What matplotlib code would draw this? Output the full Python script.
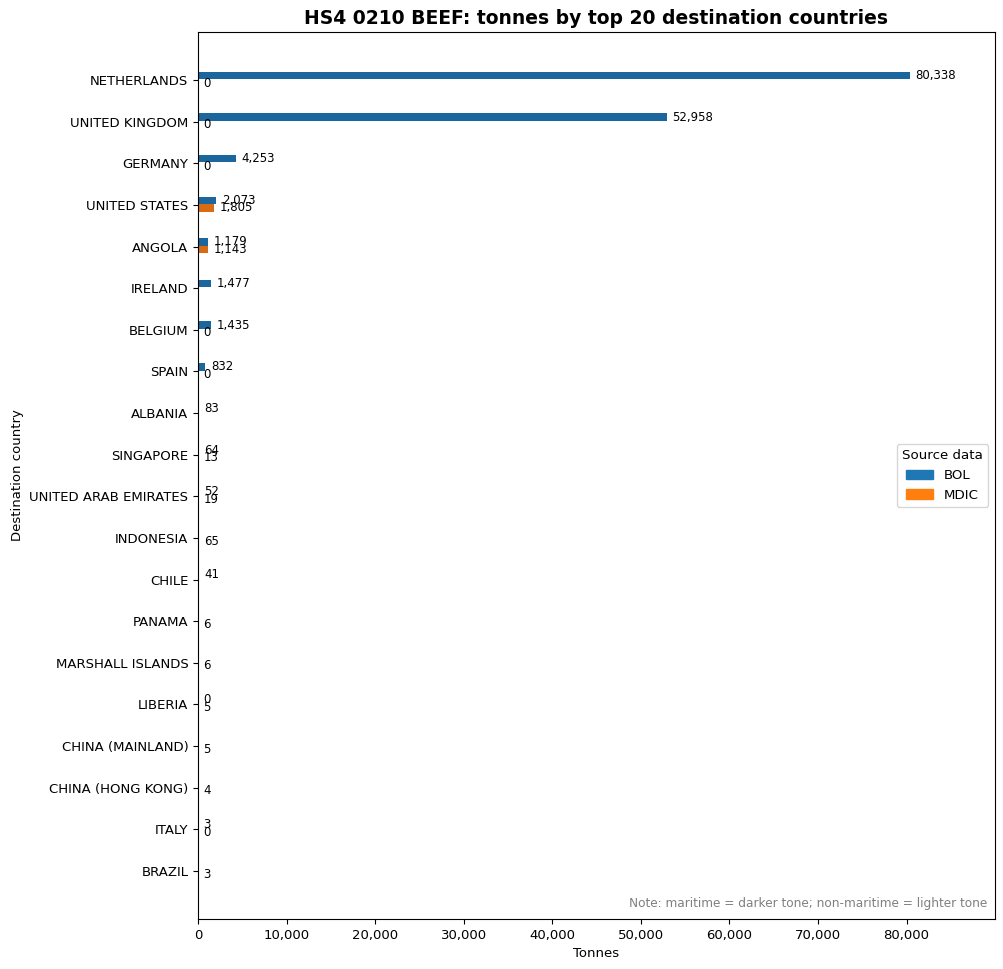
import numpy as np
import matplotlib
matplotlib.use("Agg")
import matplotlib.pyplot as plt
from matplotlib.patches import Patch

# top 20 destination countries, sorted by total tonnes
countries = ["NETHERLANDS", "UNITED KINGDOM", "GERMANY", "UNITED STATES", "ANGOLA",
             "IRELAND", "BELGIUM", "SPAIN", "ALBANIA", "SINGAPORE",
             "UNITED ARAB EMIRATES", "INDONESIA", "CHILE", "PANAMA", "MARSHALL ISLANDS",
             "LIBERIA", "CHINA (MAINLAND)", "CHINA (HONG KONG)", "ITALY", "BRAZIL"]
nan = np.nan
# maritime tonnes per source (nan = no record)
bol_tonnes = [80338, 52958, 4253, 2073, 1179,
              1477, 1435, 832, 83, 64,
              52, nan, 41, nan, nan,
              0, nan, nan, 3, nan]
mdic_tonnes = [0, 0, 0, 1805, 1143,
               nan, 0, 0, nan, 13,
               19, 65, nan, 6, 6,
               5, 5, 4, 0, 3]

base_colors = {"BOL": "#1f77b4", "MDIC": "#ff7f0e"}
dark_colors = {"BOL": "#1b669c", "MDIC": "#d96b14"}  # maritime = darker tone

fig = plt.figure(figsize=(10.04, 9.69), dpi=100)
ax = fig.add_axes([0.1972, 0.0516, 0.7938, 0.9154])

y = np.arange(len(countries))
h = 0.18

for vals, src, off in [(bol_tonnes, "BOL", -0.11), (mdic_tonnes, "MDIC", 0.075)]:
    vals = np.array(vals, dtype=float)
    bars = ax.barh(y + off, vals, height=h, color=dark_colors[src])
    labels = ["" if np.isnan(v) else f"{v:,.0f}" for v in vals]
    ax.bar_label(bars, labels=labels, padding=4, fontsize=8.5)

ax.set_yticks(y)
ax.set_yticklabels(countries)
ax.set_ylim(len(countries) - 1 + 1.153, -1.153)
ax.set_xlim(0, np.nanmax(bol_tonnes) * 1.12)
ax.xaxis.set_major_formatter(matplotlib.ticker.FuncFormatter(lambda v, p: f"{v:,.0f}"))
ax.tick_params(labelsize=9.5)

ax.set_xlabel("Tonnes", fontsize=9.5)
ax.set_ylabel("Destination country", fontsize=9.5)
ax.set_title("HS4 0210 BEEF: tonnes by top 20 destination countries",
             fontsize=13.5, fontweight="bold")

handles = [Patch(color=base_colors[s], label=s) for s in ["BOL", "MDIC"]]
ax.legend(handles=handles, title="Source data", loc="center right",
          fontsize=9.6, title_fontsize=9.6)

ax.text(0.99, 0.01, "Note: maritime = darker tone; non-maritime = lighter tone",
        transform=ax.transAxes, ha="right", va="bottom", fontsize=8.7, color="gray")

fig.savefig("out.png", dpi=100)
